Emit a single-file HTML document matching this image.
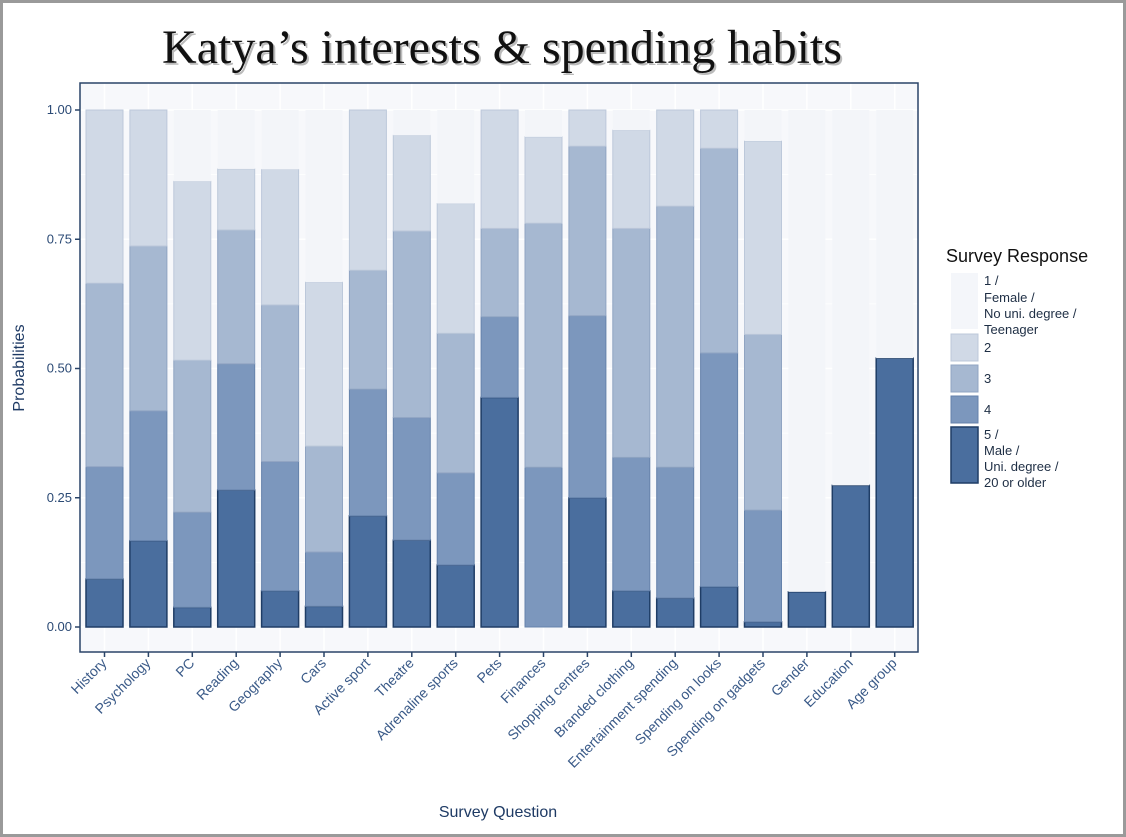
<!DOCTYPE html>
<html><head><meta charset="utf-8"><style>
body{margin:0;background:#fff;}
svg{display:block;font-family:"Liberation Sans",sans-serif;}
</style></head><body>
<svg width="1126" height="837" viewBox="0 0 1126 837" xmlns="http://www.w3.org/2000/svg">
<rect x="1.5" y="1.5" width="1123" height="834" fill="#fff" stroke="#9a9a9a" stroke-width="3"/>
<text x="502" y="63" text-anchor="middle" font-family="Liberation Serif,serif" font-size="48" fill="#bbb" transform="translate(2,2)">Katya’s interests &amp; spending habits</text>
<text x="502" y="63" text-anchor="middle" font-family="Liberation Serif,serif" font-size="48" fill="#111">Katya’s interests &amp; spending habits</text>
<rect x="80" y="83" width="838" height="569" fill="#f7f8fb"/>
<g id="grid" stroke="#fff" stroke-width="1.5"></g>
<g id="bars"></g>
<rect x="80" y="83" width="838" height="569" fill="none" stroke="#2a4468" stroke-width="1.5"/>
<g id="yax" font-size="13" fill="#2b4a75"></g>
<g id="xax" font-size="14" fill="#3a5a88"></g>
<text x="24" y="368" transform="rotate(-90 24 368)" text-anchor="middle" font-size="16" fill="#1e3a64">Probabilities</text>
<text x="498" y="817" text-anchor="middle" font-size="16" fill="#1e3a64">Survey Question</text>
<text x="946" y="262" font-size="18" fill="#111">Survey Response</text>
<rect x="951" y="273" width="27" height="56" fill="#f4f6fa"/>
<rect x="951" y="334" width="27" height="27" fill="#d0d9e6" stroke="#bcc8da"/>
<rect x="951" y="365" width="27" height="27" fill="#a6b8d1" stroke="#90a4c2"/>
<rect x="951" y="396" width="27" height="27" fill="#7c97bd" stroke="#6582ab"/>
<rect x="951" y="427" width="27" height="56" fill="#4a6e9e" stroke="#1f3d66" stroke-width="1.5"/>
<g font-size="13" fill="#1e2e44">
<text x="984" y="285">1 /</text><text x="984" y="302">Female /</text><text x="984" y="318">No uni. degree /</text><text x="984" y="334">Teenager</text>
<text x="984" y="352">2</text><text x="984" y="383">3</text><text x="984" y="414">4</text>
<text x="984" y="439">5 /</text><text x="984" y="455">Male /</text><text x="984" y="471">Uni. degree /</text><text x="984" y="487">20 or older</text>
</g>
<script>
const names=["History","Psychology","PC","Reading","Geography","Cars","Active sport","Theatre","Adrenaline sports","Pets","Finances","Shopping centres","Branded clothing","Entertainment spending","Spending on looks","Spending on gadgets","Gender","Education","Age group"];
const d=[[.093,.31,.665,1],[.167,.418,.737,1],[.038,.222,.516,.862],[.265,.509,.768,.886],[.07,.32,.623,.885],[.04,.145,.35,.667],[.215,.46,.69,1],[.168,.405,.766,.951],[.12,.298,.568,.819],[.444,.6,.771,1],[0,.309,.781,.948],[.25,.602,.93,1],[.07,.328,.771,.961],[.056,.309,.814,1],[.078,.53,.926,1],[.01,.226,.566,.94],[.068,.068,.068,.068],[.274,.274,.274,.274],[.52,.52,.52,.52]];
const fills=["#4a6e9e","#7c97bd","#a6b8d1","#d0d9e6"],strokes=["#1f3d66","#6582ab","#90a4c2","#bcc8da"];
const Y=v=>627-517*v;const ns="http://www.w3.org/2000/svg";
function el(t,a,p){const e=document.createElementNS(ns,t);for(const k in a)e.setAttribute(k,a[k]);p.appendChild(e);return e;}
const g=document.getElementById("grid"),b=document.getElementById("bars"),ya=document.getElementById("yax"),xa=document.getElementById("xax");
[0,.25,.5,.75,1].forEach(v=>{el("line",{x1:80,x2:918,y1:Y(v),y2:Y(v)},g);el("line",{x1:75,x2:80,y1:Y(v),y2:Y(v),stroke:"#2a4468","stroke-width":1.5},ya);el("text",{x:72,y:Y(v)+4,"text-anchor":"end"},ya).textContent=v.toFixed(2);});
[.125,.375,.625,.875].forEach(v=>el("line",{x1:80,x2:918,y1:Y(v),y2:Y(v),"stroke-width":.7},g));
names.forEach((n,i)=>{const cx=104.5+i*43.9;el("line",{x1:cx,x2:cx,y1:83,y2:652},g);
el("line",{x1:cx,x2:cx,y1:652,y2:657,stroke:"#2a4468","stroke-width":1.5},xa);
const t=el("text",{x:cx+3,y:664,"text-anchor":"end",transform:`rotate(-45 ${cx+3} 664)`},xa);t.textContent=n;
const x=cx-18.5,w=37;let prev=0;
d[i].forEach((v,k)=>{if(v>prev){el("rect",{x:x,y:Y(v),width:w,height:Y(prev)-Y(v),fill:fills[k],stroke:strokes[k],"stroke-width":k==0?1.5:1},b);}prev=v;});
if(prev<1)el("rect",{x:x,y:Y(1),width:w,height:Y(prev)-Y(1),fill:"#f3f5f9"},b);});
</script>
</svg>
</body></html>
